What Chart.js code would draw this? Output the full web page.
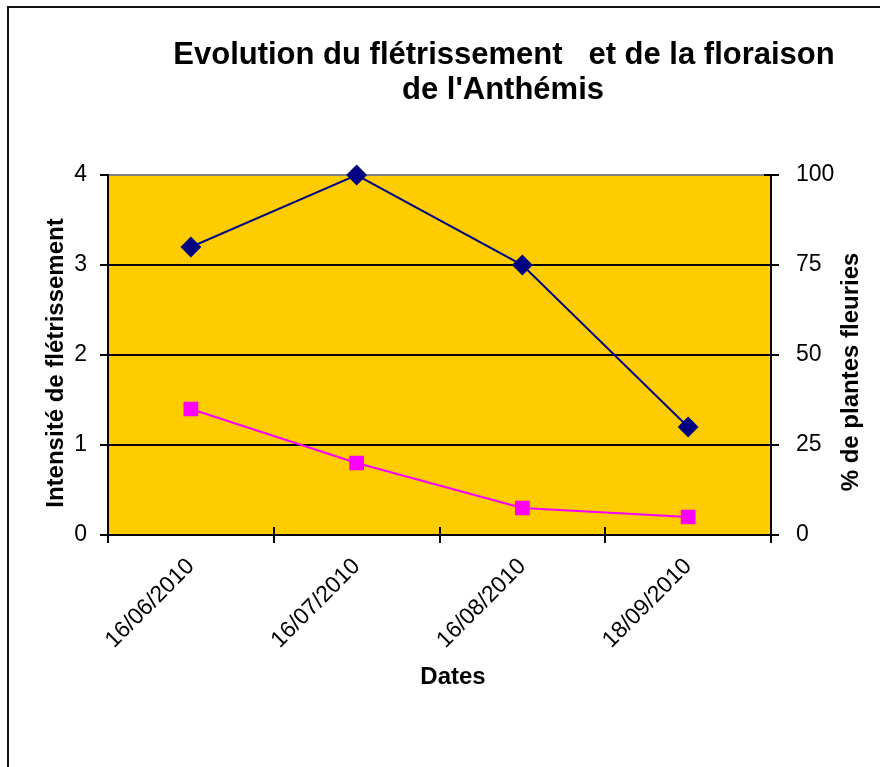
<!DOCTYPE html>
<html>
<head>
<meta charset="utf-8">
<title>Evolution du flétrissement et de la floraison de l'Anthémis</title>
<script src="https://cdn.jsdelivr.net/npm/chart.js@4/dist/chart.umd.min.js"></script>
<style>
body { margin: 0; background: #fff; }
#wrap { width: 880px; height: 767px; position: relative; }
</style>
</head>
<body>
<div id="wrap"><canvas id="anthemisChart"></canvas></div>
<script>
// data
const dates = ['16/06/2010', '16/07/2010', '16/08/2010', '18/09/2010'];
const fletrissement = [3.2, 4, 3, 1.2];   // left axis
const floraison = [35, 20, 7.5, 5];       // right axis, %
const leftTicks = [0, 1, 2, 3, 4];
const rightTicks = [0, 25, 50, 75, 100];

const titleLines = ["Evolution du flétrissement   et de la floraison", "de l'Anthémis"];
const leftTitle = 'Intensité de flétrissement';
const rightTitle = '% de plantes fleuries';
const xTitle = 'Dates';

const FONT = "'Liberation Sans', Arial, sans-serif";

// yellow plot area, frame, titles drawn by hand (titles sit off-centre like in excel)
const decor = {
	id: 'decor',
	beforeDraw(chart) {
		let ctx = chart.ctx;
		let a = chart.chartArea;
		ctx.save();
		ctx.fillStyle = '#fff';
		ctx.fillRect(0, 0, chart.width, chart.height);
		ctx.fillStyle = '#FFCC00';
		ctx.fillRect(a.left, a.top, a.right - a.left, a.bottom - a.top);
		ctx.restore();
	},
	afterDraw(chart) {
		let ctx = chart.ctx;
		let a = chart.chartArea;
		let x = chart.scales.x;
		let y1 = chart.scales.y1;
		ctx.save();
		// outer frame
		ctx.strokeStyle = '#111';
		ctx.lineWidth = 2;
		ctx.strokeRect(8, 7, chart.width + 20, chart.height + 20);

		// x and right ticks also go a bit into the plot
		ctx.strokeStyle = '#000';
		ctx.lineWidth = 2;
		for (let i = 1; i < dates.length; i++) {
			let px = Math.round(x.getPixelForValue(i - 0.5));
			ctx.beginPath();
			ctx.moveTo(px, a.bottom - 8);
			ctx.lineTo(px, a.bottom);
			ctx.stroke();
		}
		rightTicks.forEach(v => {
			let py = Math.round(y1.getPixelForValue(v));
			ctx.beginPath();
			ctx.moveTo(a.right - 7, py);
			ctx.lineTo(a.right, py);
			ctx.stroke();
		});

		ctx.fillStyle = '#000';
		ctx.textAlign = 'center';
		ctx.textBaseline = 'middle';
		ctx.font = 'bold 31px ' + FONT;
		ctx.fillText(titleLines[0], 504, 55);
		ctx.fillText(titleLines[1], 503, 90);

		ctx.font = 'bold 24px ' + FONT;
		ctx.fillText(xTitle, 453, 677);

		ctx.save();
		ctx.translate(56, 363);
		ctx.rotate(-Math.PI / 2);
		ctx.fillText(leftTitle, 0, 0);
		ctx.restore();

		ctx.save();
		ctx.translate(851, 372);
		ctx.rotate(-Math.PI / 2);
		ctx.fillText(rightTitle, 0, 0);
		ctx.restore();

		ctx.restore();
	}
};

var ctx = document.getElementById('anthemisChart').getContext('2d');
var myChart = new Chart(ctx, {
	type: 'line',
	data: {
		labels: dates,
		datasets: [
			{
				label: leftTitle,
				data: fletrissement,
				yAxisID: 'y',
				borderColor: '#000080',
				backgroundColor: '#000080',
				borderWidth: 2,
				pointStyle: 'rectRot',
				pointRadius: 9,
				pointHoverRadius: 9,
				tension: 0,
				clip: false
			},
			{
				label: rightTitle,
				data: floraison,
				yAxisID: 'y1',
				borderColor: '#FF00FF',
				backgroundColor: '#FF00FF',
				borderWidth: 2,
				pointStyle: 'rect',
				pointRadius: 9,
				pointHoverRadius: 9,
				tension: 0,
				clip: false
			}
		]
	},
	options: {
		responsive: true,
		maintainAspectRatio: false,
		animation: false,
		layout: { padding: { top: 175, left: 0, right: 0, bottom: 0 } },
		plugins: {
			legend: { display: false },
			title: { display: false },
			tooltip: { enabled: false }
		},
		scales: {
			x: {
				offset: true,
				grid: { offset: true, drawOnChartArea: false, color: '#000', lineWidth: 2, tickLength: 8 },
				border: { color: '#000', width: 2 },
				ticks: {
					color: '#000',
					font: { family: FONT, size: 23 },
					minRotation: 45,
					maxRotation: 45,
					padding: 10
				},
				afterFit(scale) { scale.height = 767 - 535; }
			},
			y: {
				position: 'left',
				min: leftTicks[0],
				max: leftTicks[leftTicks.length - 1],
				afterBuildTicks(scale) { scale.ticks = leftTicks.map(v => ({ value: v })); },
				grid: {
					color: c => (c.tick && c.tick.value === 4) ? '#808080' : '#000',
					lineWidth: 2,
					tickLength: 8,
					tickColor: '#000'
				},
				border: { color: '#000', width: 2 },
				ticks: { color: '#000', font: { family: FONT, size: 23 }, padding: 13 },
				afterFit(scale) { scale.width = 108; }
			},
			y1: {
				position: 'right',
				min: rightTicks[0],
				max: rightTicks[rightTicks.length - 1],
				afterBuildTicks(scale) { scale.ticks = rightTicks.map(v => ({ value: v })); },
				grid: { drawOnChartArea: false, color: '#000', lineWidth: 2, tickLength: 8 },
				border: { color: '#000', width: 2 },
				ticks: { color: '#000', font: { family: FONT, size: 23 }, padding: 17 },
				afterFit(scale) { scale.width = 880 - 771; }
			}
		}
	},
	plugins: [decor]
});
</script>
</body>
</html>
